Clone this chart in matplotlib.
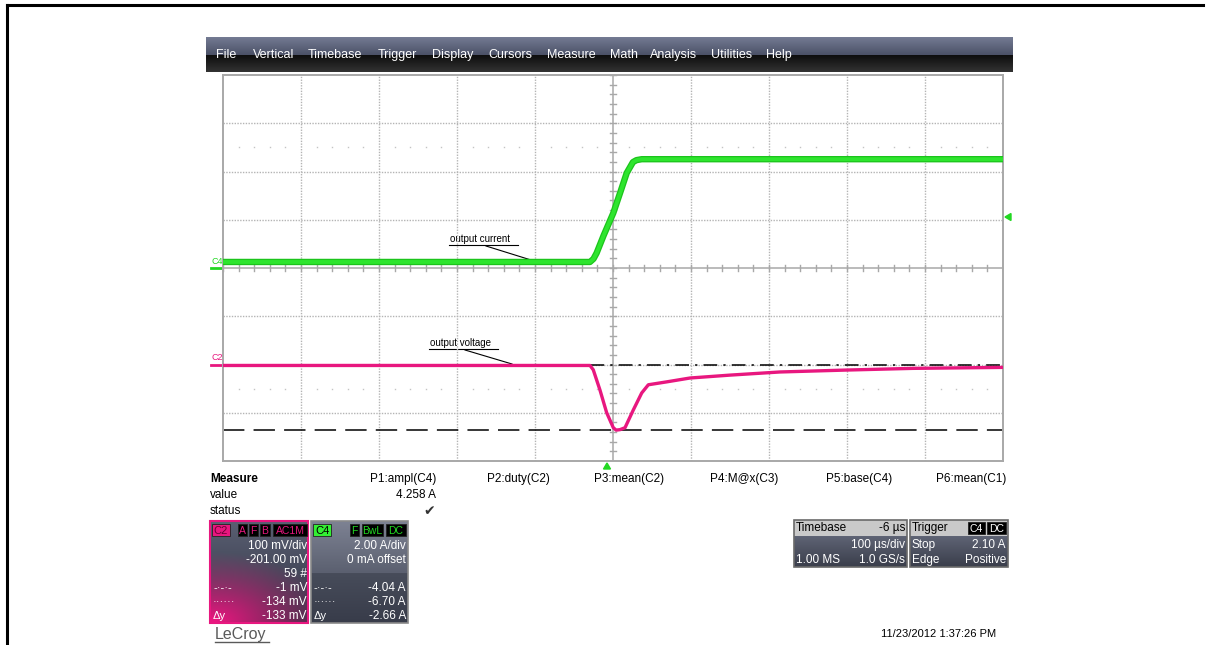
import numpy as np
import matplotlib.pyplot as plt
import matplotlib.colors as mcolors
from matplotlib.patches import Rectangle, Polygon

plt.rcParams['font.family'] = ['Liberation Sans', 'DejaVu Sans']

# timebase 100 us/div, 10 div, trigger delay -6 us
t_left, t_right = -494, 506

# C4: output current (A), 2.00 A/div, 0 mA offset
c4_t = [-494, -23.5, -19, -15, -6, 6.4, 16, 23.6, 31.6, 36, 42.8, 506]
c4_amp = [0.25, 0.25, 0.38, 0.62, 1.35, 2.28, 3.2, 3.94, 4.39, 4.47, 4.51, 4.51]

# C2: output voltage (mV), 100 mV/div, -201 mV offset
c2_t = [-494, -23.5, -19.3, -10.7, -2.1, 6.4, 10, 15.0, 21.4, 32.1, 42.8, 51.3,
        74.8, 104.7, 156, 220, 305.6, 390.6, 506]
c2_mv = [-1, -1, -10, -52, -99, -130, -135, -134, -130, -93, -58, -41,
         -35, -27, -21, -14.5, -10.5, -7, -5]

c4_scale, c4_offset = 2.0, 0.0
c2_scale, c2_offset = 100.0, -201.0
cursor_c2 = [-1, -134]
trig_level = 2.10

menu_items = ['File', 'Vertical', 'Timebase', 'Trigger', 'Display', 'Cursors',
              'Measure', 'Math', 'Analysis', 'Utilities', 'Help']
menu_x = [216, 253, 308, 378, 432, 488, 547, 610, 650, 711, 766]
meas_labels = ['P1:ampl(C4)', 'P2:duty(C2)', 'P3:mean(C2)', 'P4:M@x(C3)',
               'P5:base(C4)', 'P6:mean(C1)']
meas_values = ['4.258 A', '', '', '', '', '']

GREEN = '#22d822'
PINK = '#e8177f'
GRID = '#b4b4b4'

fig = plt.figure(figsize=(12.11, 6.45), dpi=100)
ui = fig.add_axes([0, 0, 1, 1])
ui.set_xlim(0, 1211)
ui.set_ylim(645, 0)
ui.axis('off')


def grad(x0, y0, w, h, top, bottom, glow=None):
    ny, nx = int(h), int(w)
    yy, xx = np.mgrid[0:1:ny * 1j, 0:1:nx * 1j]
    c1 = np.array(mcolors.to_rgb(top))
    c2 = np.array(mcolors.to_rgb(bottom))
    img = c1 * (1 - yy[..., None]) + c2 * yy[..., None]
    if glow is not None:
        d = np.sqrt((xx * 0.8) ** 2 + ((1 - yy) * 1.5) ** 2)
        a = np.clip(1.05 - d, 0, 1) ** 1.1
        img = img * (1 - a[..., None]) + np.array(mcolors.to_rgb(glow)) * a[..., None]
    ui.imshow(img, extent=(x0, x0 + w, y0 + h, y0), aspect='auto', zorder=2,
              interpolation='bilinear')


# outer frame
ui.plot([7, 7], [5, 645], color='black', lw=2.2)
ui.plot([7, 1203], [5, 5], color='black', lw=2.2)

# menu bar
grad(206, 37, 807, 18, '#737a92', '#4c5268')
grad(206, 55, 807, 17, '#0e0e0e', '#323232')
for name, x in zip(menu_items, menu_x):
    ui.text(x, 55, name, color='white', fontsize=9, va='center', ha='left', zorder=3)

# grid axes
ax = fig.add_axes([223 / 1211, (645 - 461) / 645, 780 / 1211, 386 / 645])
ax.set_xlim(t_left, t_right)
ax.set_ylim(-4, 4)
ax.patch.set_alpha(0)
ax.set_xticks([])
ax.set_yticks([])
for s in ax.spines.values():
    s.set_color('#a8a8a8')
    s.set_linewidth(1.4)

t_center = (t_left + t_right) / 2
for k in range(1, 10):
    t = t_left + k * 100
    if k == 5:
        ax.axvline(t, color='#a8a8a8', lw=1.1, zorder=1)
    else:
        ax.axvline(t, color=GRID, lw=1, ls=(0, (1, 1)), zorder=1)
for k in range(-3, 4):
    if k == 0:
        ax.axhline(0, color='#a8a8a8', lw=1.1, zorder=1)
    else:
        ax.axhline(k, color=GRID, lw=1, ls=(0, (1, 1)), zorder=1)

# minor ticks on the centre cross
for k in range(51):
    t = t_left + k * 20
    ax.plot([t, t], [-0.065, 0.065], color='#a8a8a8', lw=1, zorder=1)
for k in range(-20, 21):
    y = k * 0.2
    ax.plot([t_center - 3.8, t_center + 3.8], [y, y], color='#a8a8a8', lw=1, zorder=1)
# dot rows
for yd in (2.5, -2.5):
    dots = [t_left + k * 20 for k in range(1, 50) if k % 5]
    ax.plot(dots, [yd] * len(dots), ls='none', marker='s', ms=1.0, color='#c4c4c4',
            mew=0, zorder=1)

# cursors on C2
c2_pos = lambda v: (np.asarray(v, dtype=float) + c2_offset) / c2_scale
ax.axhline(c2_pos(cursor_c2[0]), color='black', lw=1.1, ls=(0, (9, 4, 1.5, 4)), zorder=2)
ax.axhline(c2_pos(cursor_c2[1]), color='black', lw=1.1, ls=(0, (14, 6)), zorder=2)

# traces
c4_pos = (np.asarray(c4_amp) + c4_offset) / c4_scale
ax.plot(c4_t, c4_pos, color='#1cc41c', lw=4.6, zorder=3, solid_capstyle='butt')
ax.plot(c4_t, c4_pos, color='#2ee52e', lw=2.8, zorder=3, solid_capstyle='butt')
ax.plot(c2_t, c2_pos(c2_mv), color=PINK, lw=2.4, zorder=4, solid_capstyle='butt')

# channel markers on the left
ui.plot([211, 222], [268, 268], color=GREEN, lw=2, zorder=3)
ui.text(211, 261, 'C4', color=GREEN, fontsize=6.5, va='center', ha='left')
ui.plot([211, 222], [365, 365], color=PINK, lw=2, zorder=3)
ui.text(211, 357, 'C2', color=PINK, fontsize=6.5, va='center', ha='left')

# trigger markers
ui.add_patch(Polygon([[1005, 217], [1011, 213.5], [1011, 220.5]], color=GREEN, zorder=3))
ui.add_patch(Polygon([[607, 463], [603.5, 469], [610.5, 469]], color=GREEN, zorder=3))

# annotations
ui.text(450, 239, 'output current', fontsize=7, va='center', ha='left', zorder=5)
ui.plot([449, 518], [245, 245], color='black', lw=0.8, zorder=5)
ui.plot([486, 531], [246, 260], color='black', lw=0.8, zorder=5)
ui.text(430, 343, 'output voltage', fontsize=7, va='center', ha='left', zorder=5)
ui.plot([429, 498], [349, 349], color='black', lw=0.8, zorder=5)
ui.plot([465, 512], [350, 364], color='black', lw=0.8, zorder=5)

# measure table
ui.text(210, 479, 'Measure', fontsize=8.5, fontweight='bold', va='center')
ui.text(210, 495, 'value', fontsize=8.5, va='center')
ui.text(210, 511, 'status', fontsize=8.5, va='center')
for i, (lab, val) in enumerate(zip(meas_labels, meas_values)):
    xr = 436 + i * 114
    ui.text(xr, 479, lab, fontsize=8.5, ha='right', va='center')
    if val:
        ui.text(xr, 495, val, fontsize=8.5, ha='right', va='center')
        ui.text(xr - 1, 511, '\u2714', fontsize=10, ha='right', va='center',
                color='#333333', family='DejaVu Sans')


def badge(x0, x1, y0, y1, text, bg, fg, fs=7.5):
    ui.add_patch(Rectangle((x0, y0), x1 - x0, y1 - y0, facecolor=bg,
                           edgecolor='#222222', lw=0.6, zorder=4))
    ui.text((x0 + x1) / 2, (y0 + y1) / 2 + 0.5, text, color=fg, fontsize=fs,
            ha='center', va='center', zorder=5)


# C2 descriptor box
grad(210, 521, 98, 102, '#5a5f72', '#2e3242', glow=PINK)
ui.add_patch(Rectangle((210, 521), 98, 102, fill=False, edgecolor=PINK, lw=1.5, zorder=4))
badge(212, 230, 524, 536, 'C2', PINK, '#6a0035', fs=8)
badge(238, 247, 524, 536, 'A', 'black', PINK)
badge(249, 258, 524, 536, 'F', 'black', PINK)
badge(260, 270, 524, 536, 'B', 'black', PINK)
badge(273, 307, 524, 536, 'AC1M', 'black', PINK)
c2_rows = [('', '100 mV/div'), ('', '-201.00 mV'), ('', '59 #'),
           ('-\u00b7-\u00b7-', '-1 mV'), ('\u00b7\u00b7\u00b7\u00b7\u00b7\u00b7', '-134 mV'),
           ('\u0394y', '-133 mV')]
for j, (l, r) in enumerate(c2_rows):
    y = 546 + j * 14
    ui.text(307, y, r, color='white', fontsize=8.5, ha='right', va='center', zorder=5)
    if l:
        ui.text(213, y, l, color='white', fontsize=8, ha='left', va='center', zorder=5)

# C4 descriptor box
grad(311, 521, 97, 52, '#7d8293', '#5b6070')
grad(311, 573, 97, 50, '#474c5a', '#383c4a')
ui.add_patch(Rectangle((311, 521), 97, 102, fill=False, edgecolor='#8a8a8a', lw=1.2, zorder=4))
badge(313, 331, 524, 536, 'C4', '#33f033', 'black', fs=8)
badge(350, 359, 524, 536, 'F', 'black', GREEN)
badge(362, 383, 524, 536, 'BwL', 'black', GREEN)
badge(386, 406, 524, 536, 'DC', 'black', GREEN)
c4_rows = [('', '2.00 A/div'), ('', '0 mA offset'), ('', ''),
           ('-\u00b7-\u00b7-', '-4.04 A'), ('\u00b7\u00b7\u00b7\u00b7\u00b7\u00b7', '-6.70 A'),
           ('\u0394y', '-2.66 A')]
for j, (l, r) in enumerate(c4_rows):
    y = 546 + j * 14
    if r:
        ui.text(406, y, r, color='white', fontsize=8.5, ha='right', va='center', zorder=5)
    if l:
        ui.text(314, y, l, color='white', fontsize=8, ha='left', va='center', zorder=5)

# timebase / trigger boxes
for x0, w in ((794, 113), (910, 98)):
    ui.add_patch(Rectangle((x0, 520), w, 16, facecolor='#c9c9c9', edgecolor='none', zorder=3))
    grad(x0, 536, w, 31, '#5e6374', '#3a3e4b')
    ui.add_patch(Rectangle((x0, 520), w, 47, fill=False, edgecolor='#6a6a6a', lw=1.2, zorder=4))
ui.text(796, 528, 'Timebase', fontsize=8.5, va='center', zorder=5)
ui.text(905, 528, '-6 \u00b5s', fontsize=8.5, va='center', ha='right', zorder=5)
ui.text(905, 545, '100 \u00b5s/div', fontsize=8.5, va='center', ha='right', color='white', zorder=5)
ui.text(796, 560, '1.00 MS', fontsize=8.5, va='center', color='white', zorder=5)
ui.text(905, 560, '1.0 GS/s', fontsize=8.5, va='center', ha='right', color='white', zorder=5)
ui.text(912, 528, 'Trigger', fontsize=8.5, va='center', zorder=5)
badge(968, 985, 522, 534, 'C4', 'black', 'white')
badge(987, 1006, 522, 534, 'DC', 'black', 'white')
ui.text(912, 545, 'Stop', fontsize=8.5, va='center', color='white', zorder=5)
ui.text(1006, 545, '2.10 A', fontsize=8.5, va='center', ha='right', color='white', zorder=5)
ui.text(912, 560, 'Edge', fontsize=8.5, va='center', color='white', zorder=5)
ui.text(1006, 560, 'Positive', fontsize=8.5, va='center', ha='right', color='white', zorder=5)

# footer
ui.text(215, 634, 'LeCroy', fontsize=11.5, color='#5a5a5a', va='center', ha='left')
ui.plot([215, 269], [642, 642], color='#5a5a5a', lw=1)
ui.text(996, 634, '11/23/2012 1:37:26 PM', fontsize=8, va='center', ha='right')

fig.savefig('out.png', dpi=100)
